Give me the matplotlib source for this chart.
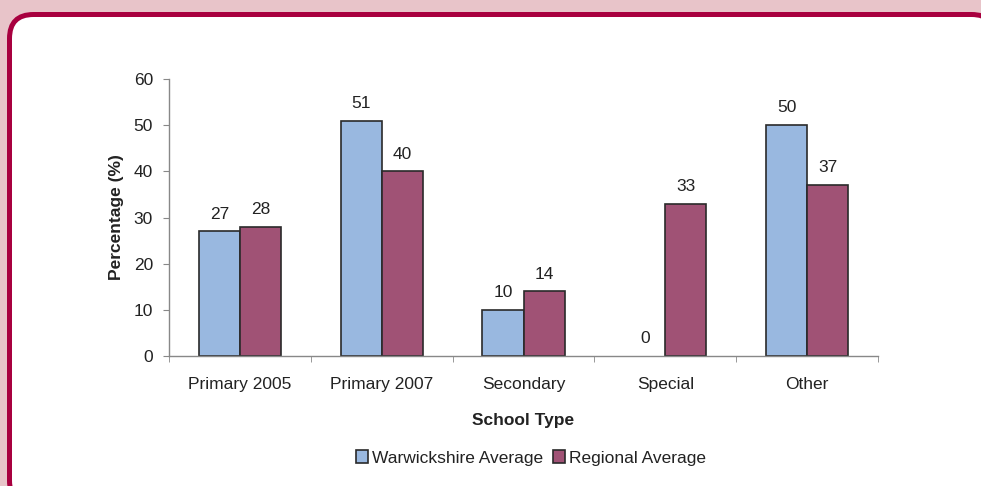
import matplotlib.pyplot as plt
from matplotlib.patches import FancyBboxPatch
import numpy as np

plt.rcParams['font.family'] = ['Liberation Sans', 'DejaVu Sans']

categories = ["Primary 2005", "Primary 2007", "Secondary", "Special", "Other"]
warwickshire = [27, 51, 10, 0, 50]
regional = [28, 40, 14, 33, 37]

blue = "#99b8e0"
plum = "#a05275"
edge = "#2a2a2a"
text_col = "#222222"
fs = 12.5


def main():
    fig = plt.figure(figsize=(9.81, 4.86), dpi=100, facecolor="#e8c4c9")

    # background layer in pixel units for the rounded white panel
    bg = fig.add_axes([0, 0, 1, 1])
    bg.set_xlim(0, 981)
    bg.set_ylim(486, 0)
    bg.axis("off")
    bg.add_patch(FancyBboxPatch((9.5, 14.5), 986, 490,
                                boxstyle="round,pad=0,rounding_size=24",
                                facecolor="white", edgecolor="#a8003f",
                                linewidth=3.6))

    ax = fig.add_axes([169 / 981, 130 / 486, 709 / 981, 277 / 486])
    ax.set_facecolor("none")

    x = np.arange(len(categories))
    w = 0.29
    b1 = ax.bar(x - w / 2, warwickshire, w, color=blue, edgecolor=edge,
                linewidth=1.2, label="Warwickshire Average")
    b2 = ax.bar(x + w / 2, regional, w, color=plum, edgecolor=edge,
                linewidth=1.2, label="Regional Average")

    for bars, vals in ((b1, warwickshire), (b2, regional)):
        for bar, v in zip(bars, vals):
            if v == 0:
                bar.set_linewidth(0)
            ax.annotate(str(v), (bar.get_x() + bar.get_width() / 2, v),
                        xytext=(0, 7), textcoords="offset points",
                        ha="center", va="bottom", fontsize=fs, color=text_col)

    ax.set_xlim(-0.5, len(categories) - 0.5)
    ax.set_ylim(0, 60)
    ax.set_yticks(range(0, 61, 10))
    ax.set_xticks(x)
    ax.set_xticklabels(categories)
    ax.set_xticks(np.arange(-0.5, len(categories)), minor=True)
    ax.tick_params(axis="x", which="major", length=0, pad=15,
                   labelsize=fs, labelcolor=text_col)
    ax.tick_params(axis="x", which="minor", length=4.5, color="#888888")
    ax.tick_params(axis="y", length=4.5, pad=7, color="#888888",
                   labelsize=fs, labelcolor=text_col)

    for side in ("top", "right"):
        ax.spines[side].set_visible(False)
    for side in ("left", "bottom"):
        ax.spines[side].set_color("#888888")
        ax.spines[side].set_linewidth(1.0)

    ax.set_ylabel("Percentage (%)", fontsize=fs, fontweight="bold",
                  color=text_col, labelpad=7)
    ax.set_xlabel("School Type", fontsize=fs, fontweight="bold",
                  color=text_col, labelpad=15)

    legend = fig.legend(handles=[b1, b2], loc="center",
                        bbox_to_anchor=(531 / 981, 1 - 458 / 486), ncol=2,
                        frameon=False, fontsize=fs, handlelength=0.7,
                        handleheight=0.7, handletextpad=0.2, columnspacing=0.6,
                        labelcolor=text_col)
    for h in legend.legend_handles:
        h.set_linewidth(1.2)

    fig.savefig("out.png", dpi=100, facecolor=fig.get_facecolor())
    plt.close(fig)


if __name__ == "__main__":
    main()
